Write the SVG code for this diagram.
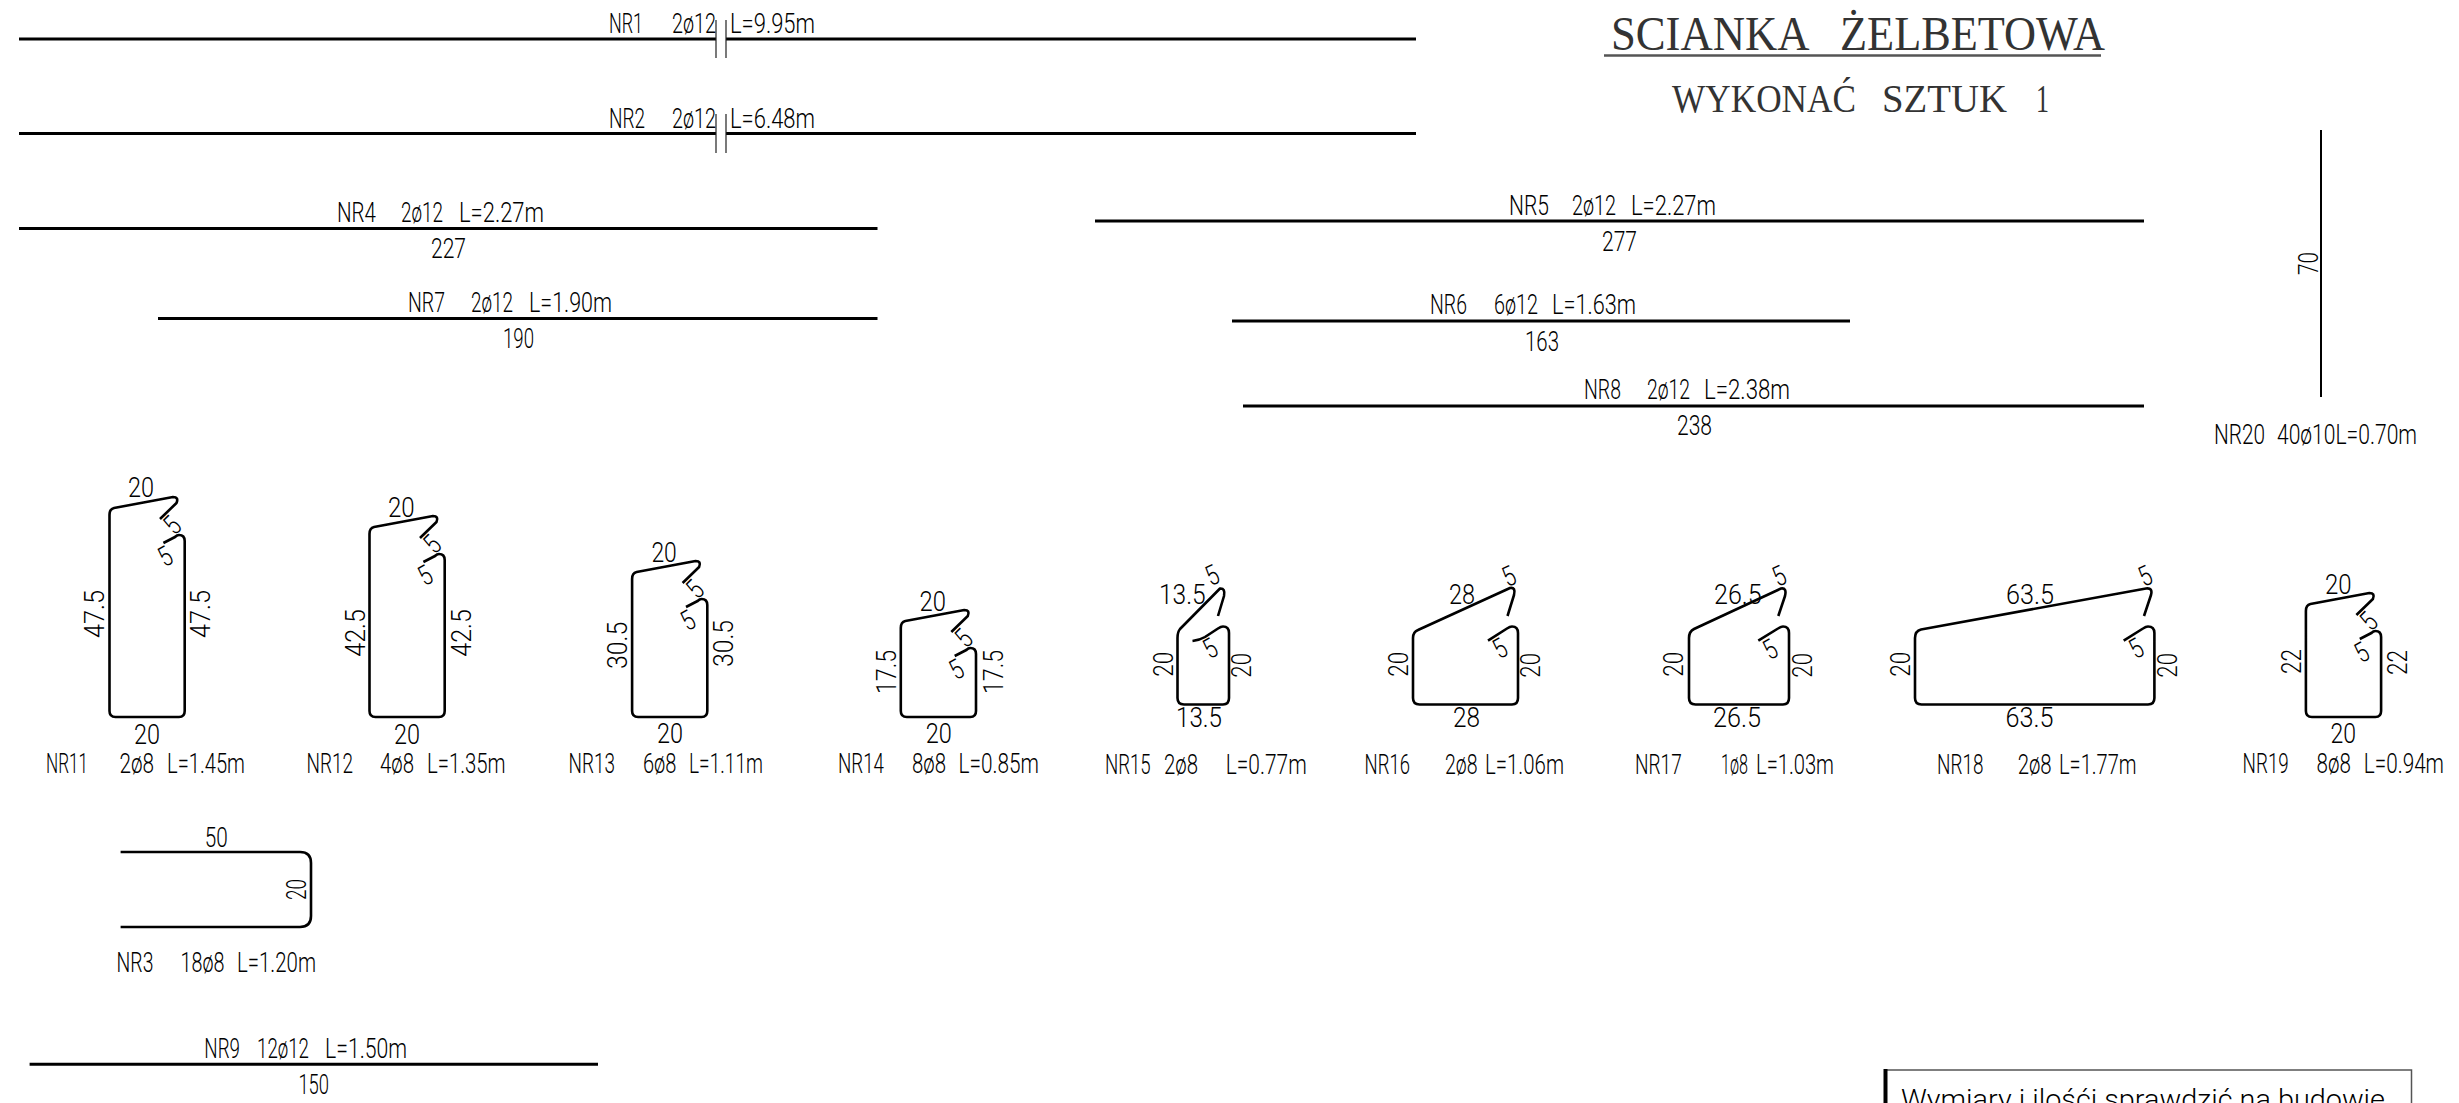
<svg xmlns="http://www.w3.org/2000/svg" width="2459" height="1103" viewBox="0 0 2459 1103">
<style>
text{font-family:Roboto,"Liberation Sans",Arial,sans-serif;font-weight:300;fill:#000}
.b{font-size:27px}
.c{font-size:28px}
.d{font-size:28px}
.s{font-family:"Liberation Serif","Times New Roman",serif;font-weight:400;fill:#333}
.bar{fill:none;stroke:#000;stroke-width:3;stroke-linecap:butt}
.shp{fill:none;stroke:#000;stroke-width:2.6;stroke-linejoin:round}
.tick{fill:none;stroke:#222;stroke-width:1.2}
</style>
<rect width="2459" height="1103" fill="#fff"/>

<g id="title">
<text class="s" y="50" font-size="48"><tspan x="1611" textLength="196" lengthAdjust="spacingAndGlyphs">SCIANKA</tspan> <tspan x="1840" textLength="265" lengthAdjust="spacingAndGlyphs">ŻELBETOWA</tspan></text>
<path d="M1604,55.500H2101" stroke="#555" stroke-width="2.500" fill="none"/>
<text class="s" y="112" font-size="41"><tspan x="1672" textLength="184" lengthAdjust="spacingAndGlyphs">WYKONAĆ</tspan> <tspan x="1882" textLength="125" lengthAdjust="spacingAndGlyphs">SZTUK</tspan> <tspan x="2036" textLength="13" lengthAdjust="spacingAndGlyphs">1</tspan></text>
</g>

<g id="nr1">
<path class="bar" d="M19,39H716M726,39H1416"/><path class="tick" d="M716,20V58M726,20V58"/>
<text class="b" y="33"><tspan x="609" textLength="34" lengthAdjust="spacingAndGlyphs">NR1</tspan> <tspan x="672" textLength="44" lengthAdjust="spacingAndGlyphs">2ø12</tspan> <tspan x="730" textLength="85" lengthAdjust="spacingAndGlyphs">L=9.95m</tspan></text>
</g>
<g id="nr2">
<path class="bar" d="M19,133.500H716M726,133.500H1416"/><path class="tick" d="M716,114V153M726,114V153"/>
<text class="b" y="128"><tspan x="609" textLength="36" lengthAdjust="spacingAndGlyphs">NR2</tspan> <tspan x="672" textLength="44" lengthAdjust="spacingAndGlyphs">2ø12</tspan> <tspan x="730" textLength="85" lengthAdjust="spacingAndGlyphs">L=6.48m</tspan></text>
</g>
<g id="nr4">
<path class="bar" d="M19,228.500H877.500"/>
<text class="b" y="222"><tspan x="337" textLength="39" lengthAdjust="spacingAndGlyphs">NR4</tspan> <tspan x="401" textLength="42" lengthAdjust="spacingAndGlyphs">2ø12</tspan> <tspan x="459" textLength="85" lengthAdjust="spacingAndGlyphs">L=2.27m</tspan></text>
<text class="b" x="431" y="258" textLength="35" lengthAdjust="spacingAndGlyphs">227</text>
</g>
<g id="nr7">
<path class="bar" d="M158,318.500H877.500"/>
<text class="b" y="312"><tspan x="408" textLength="37" lengthAdjust="spacingAndGlyphs">NR7</tspan> <tspan x="471" textLength="42" lengthAdjust="spacingAndGlyphs">2ø12</tspan> <tspan x="529" textLength="83" lengthAdjust="spacingAndGlyphs">L=1.90m</tspan></text>
<text class="b" x="503" y="348" textLength="31" lengthAdjust="spacingAndGlyphs">190</text>
</g>
<g id="nr5">
<path class="bar" d="M1095,221H2144"/>
<text class="b" y="215"><tspan x="1509" textLength="40" lengthAdjust="spacingAndGlyphs">NR5</tspan> <tspan x="1572" textLength="44" lengthAdjust="spacingAndGlyphs">2ø12</tspan> <tspan x="1631" textLength="85" lengthAdjust="spacingAndGlyphs">L=2.27m</tspan></text>
<text class="b" x="1602" y="251" textLength="35" lengthAdjust="spacingAndGlyphs">277</text>
</g>
<g id="nr6">
<path class="bar" d="M1232,321H1850"/>
<text class="b" y="314"><tspan x="1430" textLength="37" lengthAdjust="spacingAndGlyphs">NR6</tspan> <tspan x="1494" textLength="44" lengthAdjust="spacingAndGlyphs">6ø12</tspan> <tspan x="1552" textLength="84" lengthAdjust="spacingAndGlyphs">L=1.63m</tspan></text>
<text class="b" x="1525" y="351" textLength="34" lengthAdjust="spacingAndGlyphs">163</text>
</g>
<g id="nr8">
<path class="bar" d="M1243,406H2144"/>
<text class="b" y="399"><tspan x="1584" textLength="37" lengthAdjust="spacingAndGlyphs">NR8</tspan> <tspan x="1647" textLength="43" lengthAdjust="spacingAndGlyphs">2ø12</tspan> <tspan x="1704" textLength="86" lengthAdjust="spacingAndGlyphs">L=2.38m</tspan></text>
<text class="b" x="1677" y="435" textLength="35" lengthAdjust="spacingAndGlyphs">238</text>
</g>
<g id="nr20">
<path d="M2321,130V397" stroke="#000" stroke-width="2" fill="none"/>
<text class="b" transform="translate(2318,275) rotate(-90)" textLength="23" lengthAdjust="spacingAndGlyphs">70</text>
<text class="b" y="444"><tspan x="2214" textLength="51" lengthAdjust="spacingAndGlyphs">NR20</tspan> <tspan x="2277" textLength="140" lengthAdjust="spacingAndGlyphs">40ø10L=0.70m</tspan></text>
</g>

<g id="nr11">
<path class="shp" d="M160,519l16.500,-16q2.500,-6 -3.500,-6l-59,11q-4.500,1 -4.500,7V711q0,6 6,6h63.500q5.700,0 5.700,-6V541q0,-6 -5.700,-6q-2,0 -4,2l-11.600,6"/>
<text class="d" x="128" y="497" textLength="26" lengthAdjust="spacingAndGlyphs">20</text>
<text class="d" text-anchor="middle" transform="translate(172,525) rotate(-45)" y="10" textLength="12" lengthAdjust="spacingAndGlyphs">5</text>
<text class="d" text-anchor="middle" transform="translate(165,556) rotate(-30)" y="10" textLength="12" lengthAdjust="spacingAndGlyphs">5</text>
<text class="d" transform="translate(104,638) rotate(-90)" textLength="48" lengthAdjust="spacingAndGlyphs">47.5</text>
<text class="d" transform="translate(210,638) rotate(-90)" textLength="48" lengthAdjust="spacingAndGlyphs">47.5</text>
<text class="d" x="134" y="744" textLength="26" lengthAdjust="spacingAndGlyphs">20</text>
<text class="c" y="773"><tspan x="46" textLength="42" lengthAdjust="spacingAndGlyphs">NR11</tspan> <tspan x="119.500" textLength="34.500" lengthAdjust="spacingAndGlyphs">2ø8</tspan> <tspan x="167" textLength="78" lengthAdjust="spacingAndGlyphs">L=1.45m</tspan></text>
</g>
<g id="nr12">
<path class="shp" d="M420,538l16.500,-16q2.500,-6 -3.500,-6l-59,11q-4.500,1 -4.500,7V711q0,6 6,6h63.500q5.700,0 5.700,-6V560q0,-6 -5.700,-6q-2,0 -4,2l-11.600,6"/>
<text class="d" x="388" y="516.700" textLength="26.700" lengthAdjust="spacingAndGlyphs">20</text>
<text class="d" text-anchor="middle" transform="translate(432,544) rotate(-45)" y="10" textLength="12" lengthAdjust="spacingAndGlyphs">5</text>
<text class="d" text-anchor="middle" transform="translate(425,575) rotate(-30)" y="10" textLength="12" lengthAdjust="spacingAndGlyphs">5</text>
<text class="d" transform="translate(364.500,656.700) rotate(-90)" textLength="47.700" lengthAdjust="spacingAndGlyphs">42.5</text>
<text class="d" transform="translate(471,656.700) rotate(-90)" textLength="47.700" lengthAdjust="spacingAndGlyphs">42.5</text>
<text class="d" x="394" y="744" textLength="26" lengthAdjust="spacingAndGlyphs">20</text>
<text class="c" y="773"><tspan x="306.500" textLength="46.500" lengthAdjust="spacingAndGlyphs">NR12</tspan> <tspan x="380" textLength="34" lengthAdjust="spacingAndGlyphs">4ø8</tspan> <tspan x="427" textLength="78.600" lengthAdjust="spacingAndGlyphs">L=1.35m</tspan></text>
</g>
<g id="nr13">
<path class="shp" d="M682.600,583l16.500,-16q2.500,-6 -3.500,-6l-59,11q-4.500,1 -4.500,7V711q0,6 6,6h63.500q5.700,0 5.700,-6V605q0,-6 -5.700,-6q-2,0 -4,2l-11.600,6"/>
<text class="d" x="651.400" y="561.700" textLength="25.400" lengthAdjust="spacingAndGlyphs">20</text>
<text class="d" text-anchor="middle" transform="translate(694.600,589) rotate(-45)" y="10" textLength="12" lengthAdjust="spacingAndGlyphs">5</text>
<text class="d" text-anchor="middle" transform="translate(687.600,620) rotate(-30)" y="10" textLength="12" lengthAdjust="spacingAndGlyphs">5</text>
<text class="d" transform="translate(626.800,669) rotate(-90)" textLength="47.300" lengthAdjust="spacingAndGlyphs">30.5</text>
<text class="d" transform="translate(732.900,667) rotate(-90)" textLength="47" lengthAdjust="spacingAndGlyphs">30.5</text>
<text class="d" x="657" y="743" textLength="26" lengthAdjust="spacingAndGlyphs">20</text>
<text class="c" y="773"><tspan x="568.600" textLength="46.400" lengthAdjust="spacingAndGlyphs">NR13</tspan> <tspan x="642.900" textLength="33.500" lengthAdjust="spacingAndGlyphs">6ø8</tspan> <tspan x="689" textLength="74" lengthAdjust="spacingAndGlyphs">L=1.11m</tspan></text>
</g>
<g id="nr14">
<path class="shp" d="M951.300,632l16.500,-16q2.500,-6 -3.500,-6l-59,11q-4.500,1 -4.500,7V711q0,6 6,6h63.500q5.700,0 5.700,-6V654q0,-6 -5.700,-6q-2,0 -4,2l-11.600,6"/>
<text class="d" x="919.600" y="610.700" textLength="26.400" lengthAdjust="spacingAndGlyphs">20</text>
<text class="d" text-anchor="middle" transform="translate(963.300,638) rotate(-45)" y="10" textLength="12" lengthAdjust="spacingAndGlyphs">5</text>
<text class="d" text-anchor="middle" transform="translate(956.300,669) rotate(-30)" y="10" textLength="12" lengthAdjust="spacingAndGlyphs">5</text>
<text class="d" transform="translate(896,694) rotate(-90)" textLength="44" lengthAdjust="spacingAndGlyphs">17.5</text>
<text class="d" transform="translate(1002.500,694) rotate(-90)" textLength="44" lengthAdjust="spacingAndGlyphs">17.5</text>
<text class="d" x="925.700" y="743" textLength="26.100" lengthAdjust="spacingAndGlyphs">20</text>
<text class="c" y="773"><tspan x="838" textLength="46" lengthAdjust="spacingAndGlyphs">NR14</tspan> <tspan x="912" textLength="34" lengthAdjust="spacingAndGlyphs">8ø8</tspan> <tspan x="958.600" textLength="80.400" lengthAdjust="spacingAndGlyphs">L=0.85m</tspan></text>
</g>
<g id="nr15">
<path class="shp" d="M1218,616L1224,596Q1225.500,588 1220,588.500L1180,629Q1177.500,632 1177.500,638V698Q1177.500,704.500 1184,704.500H1223Q1229,704.500 1229,698V633Q1229,626.500 1223,626.500Q1221,626.500 1218,628.500L1205,637Q1200,640 1192.500,641"/>
<text class="d" x="1159" y="604" textLength="46.700" lengthAdjust="spacingAndGlyphs">13.5</text>
<text class="d" text-anchor="middle" transform="translate(1212,575) rotate(-25)" y="10" textLength="12" lengthAdjust="spacingAndGlyphs">5</text>
<text class="d" text-anchor="middle" transform="translate(1210,648) rotate(-30)" y="10" textLength="12" lengthAdjust="spacingAndGlyphs">5</text>
<text class="d" transform="translate(1173,676.700) rotate(-90)" textLength="25" lengthAdjust="spacingAndGlyphs">20</text>
<text class="d" transform="translate(1250.700,677.700) rotate(-90)" textLength="24.700" lengthAdjust="spacingAndGlyphs">20</text>
<text class="d" x="1176" y="726.700" textLength="46" lengthAdjust="spacingAndGlyphs">13.5</text>
<text class="c" y="774"><tspan x="1105" textLength="45.700" lengthAdjust="spacingAndGlyphs">NR15</tspan> <tspan x="1164" textLength="34" lengthAdjust="spacingAndGlyphs">2ø8</tspan> <tspan x="1225.700" textLength="81" lengthAdjust="spacingAndGlyphs">L=0.77m</tspan></text>
</g>
<g id="nr16">
<path class="shp" d="M1507.500,616L1514,595Q1516,587 1510,588L1418,630Q1413,632 1413,638V698Q1413,704.500 1419.500,704.500H1512Q1518,704.500 1518,698V633Q1518,626.500 1512,626.500Q1510,626.500 1507,628.500L1488,640.700"/>
<text class="d" x="1449" y="604" textLength="26" lengthAdjust="spacingAndGlyphs">28</text>
<text class="d" text-anchor="middle" transform="translate(1508.600,576) rotate(-25)" y="10" textLength="12" lengthAdjust="spacingAndGlyphs">5</text>
<text class="d" text-anchor="middle" transform="translate(1499.600,648) rotate(-30)" y="10" textLength="12" lengthAdjust="spacingAndGlyphs">5</text>
<text class="d" transform="translate(1407.900,676.700) rotate(-90)" textLength="25" lengthAdjust="spacingAndGlyphs">20</text>
<text class="d" transform="translate(1540,677.700) rotate(-90)" textLength="24.700" lengthAdjust="spacingAndGlyphs">20</text>
<text class="d" x="1453" y="726.700" textLength="27" lengthAdjust="spacingAndGlyphs">28</text>
<text class="c" y="774"><tspan x="1364.600" textLength="45.400" lengthAdjust="spacingAndGlyphs">NR16</tspan> <tspan x="1445" textLength="32.500" lengthAdjust="spacingAndGlyphs">2ø8</tspan> <tspan x="1485" textLength="79" lengthAdjust="spacingAndGlyphs">L=1.06m</tspan></text>
</g>
<g id="nr17">
<path class="shp" d="M1778.300,616L1785,596Q1787,587.500 1781,588.500L1694,629Q1689,631.500 1689,638V698Q1689,704.500 1695.500,704.500H1783Q1789,704.500 1789,698V633Q1789,626.500 1783,626.500Q1781,626.500 1778,628.500L1758.300,640.700"/>
<text class="d" x="1714" y="604" textLength="47.700" lengthAdjust="spacingAndGlyphs">26.5</text>
<text class="d" text-anchor="middle" transform="translate(1779,575.700) rotate(-25)" y="10" textLength="12" lengthAdjust="spacingAndGlyphs">5</text>
<text class="d" text-anchor="middle" transform="translate(1770,649) rotate(-30)" y="10" textLength="12" lengthAdjust="spacingAndGlyphs">5</text>
<text class="d" transform="translate(1683,676.700) rotate(-90)" textLength="25" lengthAdjust="spacingAndGlyphs">20</text>
<text class="d" transform="translate(1811.700,677.700) rotate(-90)" textLength="24.700" lengthAdjust="spacingAndGlyphs">20</text>
<text class="d" x="1713" y="726.700" textLength="48" lengthAdjust="spacingAndGlyphs">26.5</text>
<text class="c" y="774"><tspan x="1635" textLength="46.700" lengthAdjust="spacingAndGlyphs">NR17</tspan> <tspan x="1721" textLength="27" lengthAdjust="spacingAndGlyphs">1ø8</tspan> <tspan x="1756" textLength="78" lengthAdjust="spacingAndGlyphs">L=1.03m</tspan></text>
</g>
<g id="nr18">
<path class="shp" d="M2144,616L2151,595Q2153,587.500 2146,588.500L1921,629.500Q1915,631 1915,638V698Q1915,704.500 1921.500,704.500H2148Q2154.400,704.500 2154.400,698V633Q2154.400,626.500 2148,626.500Q2146,626.500 2143,628.500L2123.700,640.700"/>
<text class="d" x="2006" y="604" textLength="48" lengthAdjust="spacingAndGlyphs">63.5</text>
<text class="d" text-anchor="middle" transform="translate(2145,575.700) rotate(-25)" y="10" textLength="12" lengthAdjust="spacingAndGlyphs">5</text>
<text class="d" text-anchor="middle" transform="translate(2136,648) rotate(-30)" y="10" textLength="12" lengthAdjust="spacingAndGlyphs">5</text>
<text class="d" transform="translate(1910,676.700) rotate(-90)" textLength="25" lengthAdjust="spacingAndGlyphs">20</text>
<text class="d" transform="translate(2176.500,677.700) rotate(-90)" textLength="24.700" lengthAdjust="spacingAndGlyphs">20</text>
<text class="d" x="2005.600" y="727" textLength="48" lengthAdjust="spacingAndGlyphs">63.5</text>
<text class="c" y="774"><tspan x="1937" textLength="46.400" lengthAdjust="spacingAndGlyphs">NR18</tspan> <tspan x="2017.700" textLength="34" lengthAdjust="spacingAndGlyphs">2ø8</tspan> <tspan x="2059" textLength="77.600" lengthAdjust="spacingAndGlyphs">L=1.77m</tspan></text>
</g>
<g id="nr19">
<path class="shp" d="M2356.400,615l16.500,-16q2.500,-6 -3.500,-6l-59,11q-4.500,1 -4.500,7V711q0,6 6,6h63.500q5.700,0 5.700,-6V637q0,-6 -5.700,-6q-2,0 -4,2l-11.600,6"/>
<text class="d" x="2325" y="594" textLength="26.600" lengthAdjust="spacingAndGlyphs">20</text>
<text class="d" text-anchor="middle" transform="translate(2368.400,621) rotate(-45)" y="10" textLength="12" lengthAdjust="spacingAndGlyphs">5</text>
<text class="d" text-anchor="middle" transform="translate(2361.400,652) rotate(-30)" y="10" textLength="12" lengthAdjust="spacingAndGlyphs">5</text>
<text class="d" transform="translate(2301,674) rotate(-90)" textLength="25" lengthAdjust="spacingAndGlyphs">22</text>
<text class="d" transform="translate(2407,675) rotate(-90)" textLength="25" lengthAdjust="spacingAndGlyphs">22</text>
<text class="d" x="2330.500" y="743" textLength="25.500" lengthAdjust="spacingAndGlyphs">20</text>
<text class="c" y="773"><tspan x="2242.600" textLength="46.200" lengthAdjust="spacingAndGlyphs">NR19</tspan> <tspan x="2316.500" textLength="34.300" lengthAdjust="spacingAndGlyphs">8ø8</tspan> <tspan x="2363.800" textLength="80.200" lengthAdjust="spacingAndGlyphs">L=0.94m</tspan></text>
</g>
<g id="nr3">
<path class="shp" d="M120.600,852H300Q311,852 311,863V916Q311,927 300,927H120.600"/>
<text class="d" x="204.700" y="846.700" textLength="23" lengthAdjust="spacingAndGlyphs">50</text>
<text class="d" transform="translate(306,900) rotate(-90)" textLength="21" lengthAdjust="spacingAndGlyphs">20</text>
<text class="c" y="971.700"><tspan x="116.600" textLength="36.800" lengthAdjust="spacingAndGlyphs">NR3</tspan> <tspan x="180.600" textLength="43.900" lengthAdjust="spacingAndGlyphs">18ø8</tspan> <tspan x="237" textLength="79" lengthAdjust="spacingAndGlyphs">L=1.20m</tspan></text>
</g>
<g id="nr9">
<path class="bar" d="M29.600,1064.300H598"/>
<text class="c" y="1058"><tspan x="204.300" textLength="35.700" lengthAdjust="spacingAndGlyphs">NR9</tspan> <tspan x="257" textLength="52" lengthAdjust="spacingAndGlyphs">12ø12</tspan> <tspan x="325" textLength="82" lengthAdjust="spacingAndGlyphs">L=1.50m</tspan></text>
<text class="c" x="298.400" y="1094" textLength="30.600" lengthAdjust="spacingAndGlyphs">150</text>
</g>
<g id="note">
<path d="M1885.500,1070H2411.500V1103" fill="none" stroke="#555" stroke-width="1.500"/>
<path d="M1885.500,1069V1103" fill="none" stroke="#000" stroke-width="4"/>
<text font-size="28" x="1901" y="1109" textLength="484" lengthAdjust="spacingAndGlyphs">Wymiary i ilośći sprawdzić na budowie</text>
</g>
</svg>
